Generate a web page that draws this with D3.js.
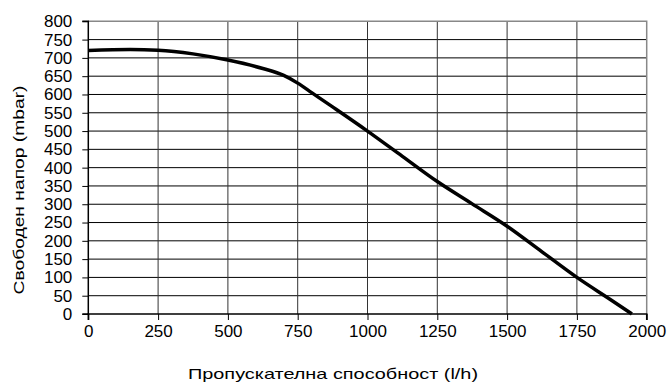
<!DOCTYPE html>
<html>
  <head>
    <meta charset="utf-8">
    <script src="https://d3js.org/d3.v7.min.js"></script>
    <style>
      body { margin: 0; background: #fff; }
      text { font-family: "Liberation Sans", Arial, sans-serif; fill: #000; }
    </style>
  </head>
<body>
  <script type="text/javascript">
    // flow (l/h) and free head (mbar)
    var flow = [0, 150, 250, 375, 500, 625, 700, 750, 800, 875, 1000, 1125, 1250, 1375, 1500, 1625, 1750, 1875, 1947];
    var head = [720, 723, 721, 711, 694, 671, 652, 631, 605, 566, 500, 431, 362, 301, 240, 170, 100, 37, 0];

    var xTicks = [0, 250, 500, 750, 1000, 1250, 1500, 1750, 2000];
    var yTicks = d3.range(0, 801, 50);

    var xTitle = "Пропускателна способност (l/h)";
    var yTitle = "Свободен напор (mbar)";

    var width = 670, height = 383;
    var pLeft = 88.3, pRight = 646.7, pTop = 21.3, pBottom = 314;

    var svg = d3.select("body")
      .append("svg")
        .attr("width", width)
        .attr("height", height);

    var x = d3.scaleLinear().domain([0, 2000]).range([pLeft, pRight]);
    var y = d3.scaleLinear().domain([0, 800]).range([pBottom, pTop]);

    // grid
    svg.append("g")
      .selectAll("line")
      .data(yTicks.filter(function (d) { return d > 0 && d < 800; }))
      .enter()
      .append("line")
        .attr("x1", pLeft).attr("x2", pRight)
        .attr("y1", function (d) { return y(d); })
        .attr("y2", function (d) { return y(d); })
        .attr("stroke", "#000")
        .attr("stroke-width", 1);

    svg.append("g")
      .selectAll("line")
      .data(xTicks.filter(function (d) { return d > 0 && d < 2000; }))
      .enter()
      .append("line")
        .attr("y1", pTop).attr("y2", pBottom)
        .attr("x1", function (d) { return x(d); })
        .attr("x2", function (d) { return x(d); })
        .attr("stroke", "#333")
        .attr("stroke-width", 1);

    // top / right frame
    svg.append("path")
      .attr("d", "M" + pLeft + "," + pTop + "H" + pRight + "V" + pBottom)
      .attr("fill", "none")
      .attr("stroke", "#888")
      .attr("stroke-width", 1.5);

    // axes
    var xAxis = svg.append("g")
      .attr("transform", "translate(0," + pBottom + ")")
      .call(d3.axisBottom(x).tickValues(xTicks).tickSize(6).tickPadding(5).tickFormat(d3.format("d")));

    var yAxis = svg.append("g")
      .attr("transform", "translate(" + pLeft + ",0)")
      .call(d3.axisLeft(y).tickValues(yTicks).tickSize(6).tickPadding(10).tickFormat(d3.format("d")));

    [xAxis, yAxis].forEach(function (g) {
      g.select(".domain").attr("stroke", "#000").attr("stroke-width", 1.5);
      g.selectAll(".tick line").attr("stroke", "#000").attr("stroke-width", 1);
      g.selectAll("text")
        .style("font-family", "'Liberation Sans', Arial, sans-serif")
        .style("font-size", "17px")
        .attr("fill", "#000");
    });
    xAxis.select(".domain").attr("d", "M" + pLeft + ",6V0H" + pRight + "V6");
    yAxis.select(".domain").attr("d", "M-6," + pTop + "H0V" + pBottom + "H-6");

    // curve
    var line = d3.line()
      .x(function (d, i) { return x(flow[i]); })
      .y(function (d) { return y(d); })
      .curve(d3.curveMonotoneX);

    svg.append("path")
      .datum(head)
      .attr("d", line)
      .attr("fill", "none")
      .attr("stroke", "#000")
      .attr("stroke-width", 3.5)
      .attr("stroke-linejoin", "round");

    // titles
    svg.append("text")
      .attr("x", 333)
      .attr("y", 378.5)
      .attr("text-anchor", "middle")
      .attr("textLength", 290)
      .attr("lengthAdjust", "spacingAndGlyphs")
      .style("font-size", "15px")
      .text(xTitle);

    svg.append("text")
      .attr("transform", "translate(23.5,190) rotate(-90)")
      .attr("text-anchor", "middle")
      .attr("textLength", 209)
      .attr("lengthAdjust", "spacingAndGlyphs")
      .style("font-size", "15px")
      .text(yTitle);
  </script>
</body>
</html>
